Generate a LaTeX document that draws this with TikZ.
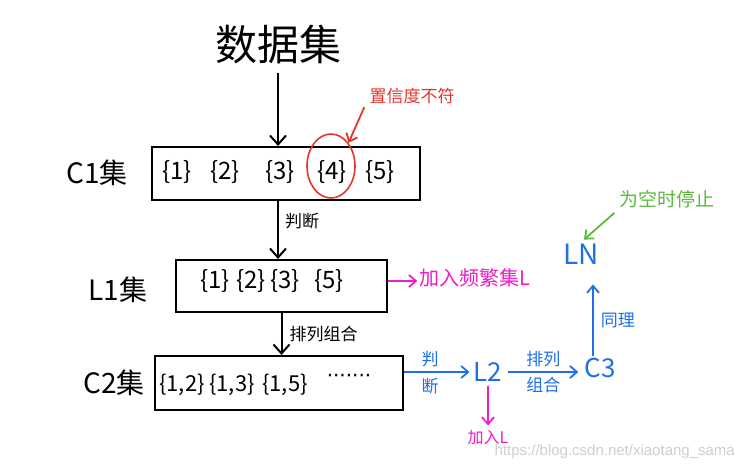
\documentclass[tikz,border=0pt]{standalone}
\usepackage{fontspec}
\setmainfont{Noto Sans CJK SC}
\newfontfamily\dotfont{DejaVu Sans}
\usetikzlibrary{arrows.meta,shapes.geometric}
\definecolor{myred}{HTML}{E8342C}
\definecolor{mymag}{HTML}{F01CC8}
\definecolor{myblue}{HTML}{1E6FE8}
\definecolor{mygreen}{HTML}{5DB83E}
\definecolor{wm}{HTML}{CFCFCF}
\tikzset{
  arr/.style={-{Straight Barb[length=9pt,width=16pt,line width=2pt]},line width=2pt},
  thinarr/.style={-{Straight Barb[length=7pt,width=12pt,line width=1.8pt]},line width=1.8pt},
  setbox/.style={draw,line width=2pt,rectangle,inner sep=0pt},
  item/.style={inner sep=0pt,font=\fontsize{24}{26}\selectfont},
  itemsm/.style={inner sep=0pt,font=\fontsize{22}{24}\selectfont},
  big/.style={inner sep=0pt,font=\fontsize{28}{30}\selectfont},
  lbl/.style={inner sep=1pt,font=\fontsize{17}{19}\selectfont},
}
\begin{document}
\begin{tikzpicture}[x=1pt,y=-1pt]
\useasboundingbox[fill=white] (0,0) rectangle (737,468);
% top
\node[inner sep=0pt,font=\fontsize{42}{44}\selectfont] (data) at (278,45) {数据集};
% C1
\node[setbox,minimum width=268pt,minimum height=53pt] (c1box) at (286,173.5) {};
\node[big] (c1lab) at (97,173) {C1集};
\node[item] (c1a) at (177,172) {\{1\}};
\node[item] (c1b) at (225,172) {\{2\}};
\node[item] (c1c) at (280,172) {\{3\}};
\node[item] (c1d) at (332,172) {\{4\}};
\node[item] (c1e) at (380,172) {\{5\}};
\node[draw=myred,line width=1.6pt,ellipse,minimum width=48pt,minimum height=64pt] (circ) at (331,166) {};
\node[text=myred,lbl,font=\fontsize{17}{19}\selectfont] (conf) at (412,96) {置信度不符};
\draw[thinarr,myred] ([xshift=-4pt,yshift=-2pt]conf.south west) -- (circ.north east);
\draw[arr] ([yshift=-8pt]data.south) -- (c1box.north -| data);
% L1
\node[setbox,minimum width=211pt,minimum height=52pt] (l1box) at (281.5,286) {};
\node[big] (l1lab) at (118,290) {L1集};
\node[item] (l1a) at (215,281) {\{1\}};
\node[item] (l1b) at (251,281) {\{2\}};
\node[item] (l1c) at (285,281) {\{3\}};
\node[item] (l1e) at (329,281) {\{5\}};
\draw[arr] (c1box.south -| data) -- (l1box.north -| data) node[pos=0.35,right=5pt,lbl] (judge) {判断};
\node[text=mymag,inner sep=0pt,font=\fontsize{20}{22}\selectfont] (freq) at (475,278) {加入频繁集L};
\draw[thinarr,mymag] ([yshift=-3pt]l1box.east |- freq.west) -- ([yshift=-3pt,xshift=-2pt]freq.west);
% C2
\node[setbox,minimum width=248pt,minimum height=54pt] (c2box) at (279,383) {};
\node[big] (c2lab) at (114,383) {C2集};
\node[itemsm] (c2a) at (182,385) {\{1,2\}};
\node[itemsm] (c2b) at (232,385) {\{1,3\}};
\node[itemsm] (c2c) at (285,385) {\{1,5\}};
\node[inner sep=0pt,font=\dotfont\fontsize{20}{22}\selectfont] (c2d) at (349,378) {·······};
\draw[arr] (l1box.south) -- (c2box.north -| l1box.south) node[midway,right=6pt,lbl] (perm) {排列组合};
% right side
\node[text=myblue,inner sep=0pt,font=\fontsize{26}{28}\selectfont] (l2) at (488,372) {L2};
\node[text=myblue,inner sep=0pt,font=\fontsize{26}{28}\selectfont] (c3) at (600,368) {C3};
\node[text=myblue,inner sep=0pt,font=\fontsize{28}{30}\selectfont] (ln) at (581,254) {LN};
\draw[thinarr,myblue] (c2box.east |- l2.west) -- ([xshift=-4pt]l2.west)
  node[pos=0.4,above=3pt,lbl,text=myblue] (j1) {判}
  node[pos=0.4,below=4pt,lbl,text=myblue] (j2) {断};
\draw[thinarr,myblue] ([xshift=6pt]l2.east) -- ([xshift=-6pt]c3.west |- l2.east)
  node[midway,above=3pt,lbl,text=myblue] (p1) {排列}
  node[midway,below=3pt,lbl,text=myblue] (p2) {组合};
\draw[thinarr,myblue] ([xshift=-7pt,yshift=2pt]c3.north) -- ([xshift=12pt,yshift=-20pt]ln.south)
  node[midway,right=6pt,lbl,text=myblue] (same) {同理};
\node[text=mymag,inner sep=0pt,font=\fontsize{16}{18}\selectfont] (addl) at (488,438) {加入L};
\draw[thinarr,mymag] ([yshift=-4pt]l2.south) -- ([yshift=5pt]addl.north);
\node[text=mygreen,lbl,font=\fontsize{19}{21}\selectfont] (stop) at (667,199) {为空时停止};
\draw[thinarr,mygreen] ([xshift=-4pt,yshift=-4pt]stop.south west) -- ([xshift=3pt,yshift=4pt]ln.north);
% watermark
\node[text=wm,inner sep=0pt,font=\fontspec{Liberation Sans}\fontsize{15}{17}\selectfont,anchor=east] (wmk) at (735,452) {https://blog.csdn.net/xiaotang\_sama};
\end{tikzpicture}
\end{document}
